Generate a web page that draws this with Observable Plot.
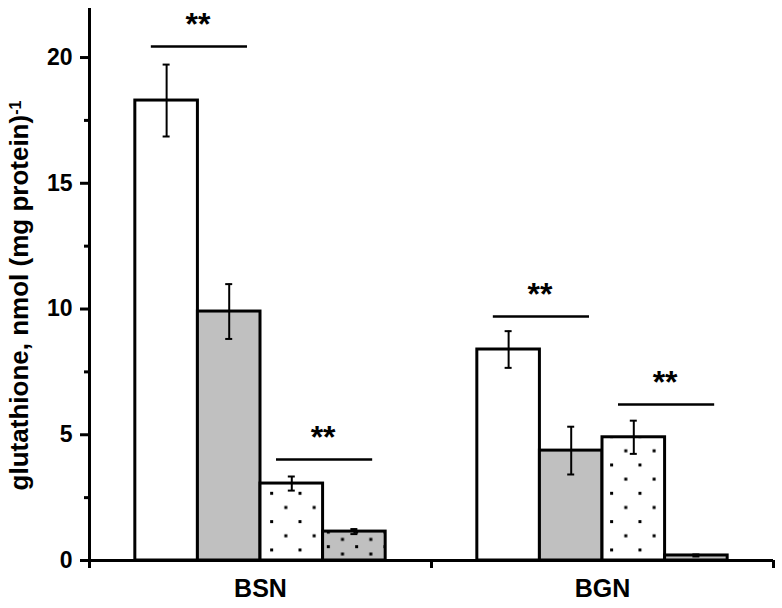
<!DOCTYPE html>
<html>
<head>
<meta charset="utf-8">
<script src="https://cdn.jsdelivr.net/npm/d3@7"></script>
<script src="https://cdn.jsdelivr.net/npm/@observablehq/plot@0.6"></script>
<style>
  html, body { margin: 0; padding: 0; background: #ffffff; }
  #chart { width: 782px; height: 608px; }
</style>
</head>
<body>
<div id="chart"></div>
<script>
// ---- data ----
const groups = ["BSN", "BGN"];
const treatments = ["T1", "T2", "T3", "T4"];
const bsnMeans = [18.29, 9.9, 3.06, 1.15];
const bsnErrors = [1.43, 1.09, 0.28, 0.1];
const bgnMeans = [8.39, 4.37, 4.9, 0.2];
const bgnErrors = [0.73, 0.95, 0.66, 0.04];
const yTicks = [0, 5, 10, 15, 20];
const yMinorTicks = [2.5, 7.5, 12.5, 17.5];
const sigGroup = ["BSN", "BSN", "BGN", "BGN"];
const sigFrom = [0, 2, 0, 2];
const sigTo = [1, 3, 1, 3];
const sigLevel = [20.44, 4.02, 9.70, 6.2];
const sigLabel = ["**", "**", "**", "**"];
const yLabel = "glutathione, nmol (mg protein)";
const yLabelSup = "-1";

// ---- styles ----
const fills = ["#ffffff", "#c0c0c0", "url(#dotsWhite)", "url(#dotsGray)"];
const outerPad = 0.134;
const barW = (1 - 2 * outerPad) / treatments.length;

const meansByGroup = [bsnMeans, bgnMeans];
const errorsByGroup = [bsnErrors, bgnErrors];
const rows = groups.flatMap((g, gi) => treatments.map((t, k) => ({
  group: g, gi, k, t,
  mean: meansByGroup[gi][k],
  err: errorsByGroup[gi][k]
})));
const left = (gi, k) => gi + outerPad + k * barW;
const right = (gi, k) => left(gi, k) + barW;
const center = (gi, k) => left(gi, k) + barW / 2;

const caps = rows.flatMap(d => [
  {gi: d.gi, k: d.k, y: d.mean - d.err},
  {gi: d.gi, k: d.k, y: d.mean + d.err}
]);
const sig = sigGroup.map((g, i) => ({
  gi: groups.indexOf(g), from: sigFrom[i], to: sigTo[i], y: sigLevel[i], label: sigLabel[i]
}));

const font = "'Liberation Sans', Arial, Helvetica, sans-serif";

const plot = Plot.plot({
  width: 782,
  height: 608,
  marginLeft: 89,
  marginRight: 9,
  marginTop: 8,
  marginBottom: 48,
  x: {domain: [0, groups.length]},
  y: {domain: [0, 21.95]},
  style: {fontFamily: font, color: "#000", background: "#fff", overflow: "visible"},
  marks: [
    ...treatments.map((t, k) => Plot.rectY(rows.filter(d => d.k === k), {
      x1: d => left(d.gi, d.k),
      x2: d => right(d.gi, d.k),
      y1: 0,
      y2: "mean",
      fill: fills[k],
      stroke: "#000",
      strokeWidth: 3
    })),
    Plot.ruleX(rows, {
      x: d => center(d.gi, d.k),
      y1: d => d.mean - d.err,
      y2: d => d.mean + d.err,
      stroke: "#000",
      strokeWidth: 2
    }),
    Plot.ruleY(caps, {
      y: "y",
      x1: d => center(d.gi, d.k),
      x2: d => center(d.gi, d.k),
      insetLeft: -3.5,
      insetRight: -3.5,
      stroke: "#000",
      strokeWidth: 2
    }),
    Plot.ruleY(sig, {
      y: "y",
      x1: d => left(d.gi, d.from),
      x2: d => right(d.gi, d.to),
      insetLeft: 16,
      insetRight: 13,
      stroke: "#000",
      strokeWidth: 2.5
    }),
    Plot.text(sig, {
      x: d => right(d.gi, d.from),
      y: "y",
      text: "label",
      dy: -22,
      fontSize: 32,
      fontWeight: "bold",
      fill: "#000"
    }),
    Plot.ruleX([0], {stroke: "#000", strokeWidth: 3}),
    Plot.ruleY([0], {stroke: "#000", strokeWidth: 3, insetLeft: -5}),
    Plot.axisY({
      ticks: yTicks, tickSize: 9, tickPadding: 8, strokeWidth: 3,
      fontSize: 23, fontWeight: "bold", label: null, fill: "#000"
    }),
    Plot.axisY({
      ticks: yMinorTicks, tickSize: 5, tickFormat: () => "", strokeWidth: 3, label: null
    }),
    Plot.axisX({
      ticks: d3.range(groups.length + 1), tickSize: 8, tickFormat: () => "",
      strokeWidth: 3, label: null
    }),
    Plot.axisX({
      ticks: groups.map((g, i) => i + 0.5), tickSize: 0, tickPadding: 19,
      tickFormat: v => groups[Math.floor(v)],
      fontSize: 25, fontWeight: "bold", label: null, fill: "#000"
    }),
    Plot.text([yLabel + yLabelSup], {
      text: d => d,
      frameAnchor: "left",
      textAnchor: "middle",
      lineAnchor: "middle",
      rotate: -90,
      dx: -70,
      dy: 11,
      fontSize: 26,
      fontWeight: "bold",
      fill: "#000"
    })
  ]
});

// pattern definitions for dotted fills
const defs = d3.create("svg:defs");
const p1 = defs.append("pattern")
  .attr("id", "dotsWhite").attr("patternUnits", "userSpaceOnUse")
  .attr("width", 28.33).attr("height", 28.33)
  .attr("patternTransform", "translate(15.2,10.2)");
p1.append("rect").attr("width", 28.33).attr("height", 28.33).attr("fill", "#ffffff");
p1.append("rect").attr("x", 0).attr("y", 0).attr("width", 3).attr("height", 3).attr("fill", "#000");
p1.append("rect").attr("x", 14.17).attr("y", 14.17).attr("width", 3).attr("height", 3).attr("fill", "#000");
const p2 = defs.append("pattern")
  .attr("id", "dotsGray").attr("patternUnits", "userSpaceOnUse")
  .attr("width", 28.33).attr("height", 14.6)
  .attr("patternTransform", "translate(15.2,5.0)");
p2.append("rect").attr("width", 28.33).attr("height", 14.6).attr("fill", "#c0c0c0");
p2.append("rect").attr("x", 0).attr("y", 0).attr("width", 3).attr("height", 3).attr("fill", "#000");
p2.append("rect").attr("x", 14.17).attr("y", 7.3).attr("width", 3).attr("height", 3).attr("fill", "#000");
plot.insertBefore(defs.node(), plot.firstChild);

// rebuild the y label as main text + superscript
d3.select(plot).selectAll("text")
  .filter(function() { return this.textContent === yLabel + yLabelSup; })
  .each(function() {
    const t = d3.select(this);
    t.text(null);
    t.append("tspan").text(yLabel);
    t.append("tspan").attr("dy", "-0.45em").attr("font-size", 16).text(yLabelSup);
  });

document.getElementById("chart").appendChild(plot);
</script>
</body>
</html>
